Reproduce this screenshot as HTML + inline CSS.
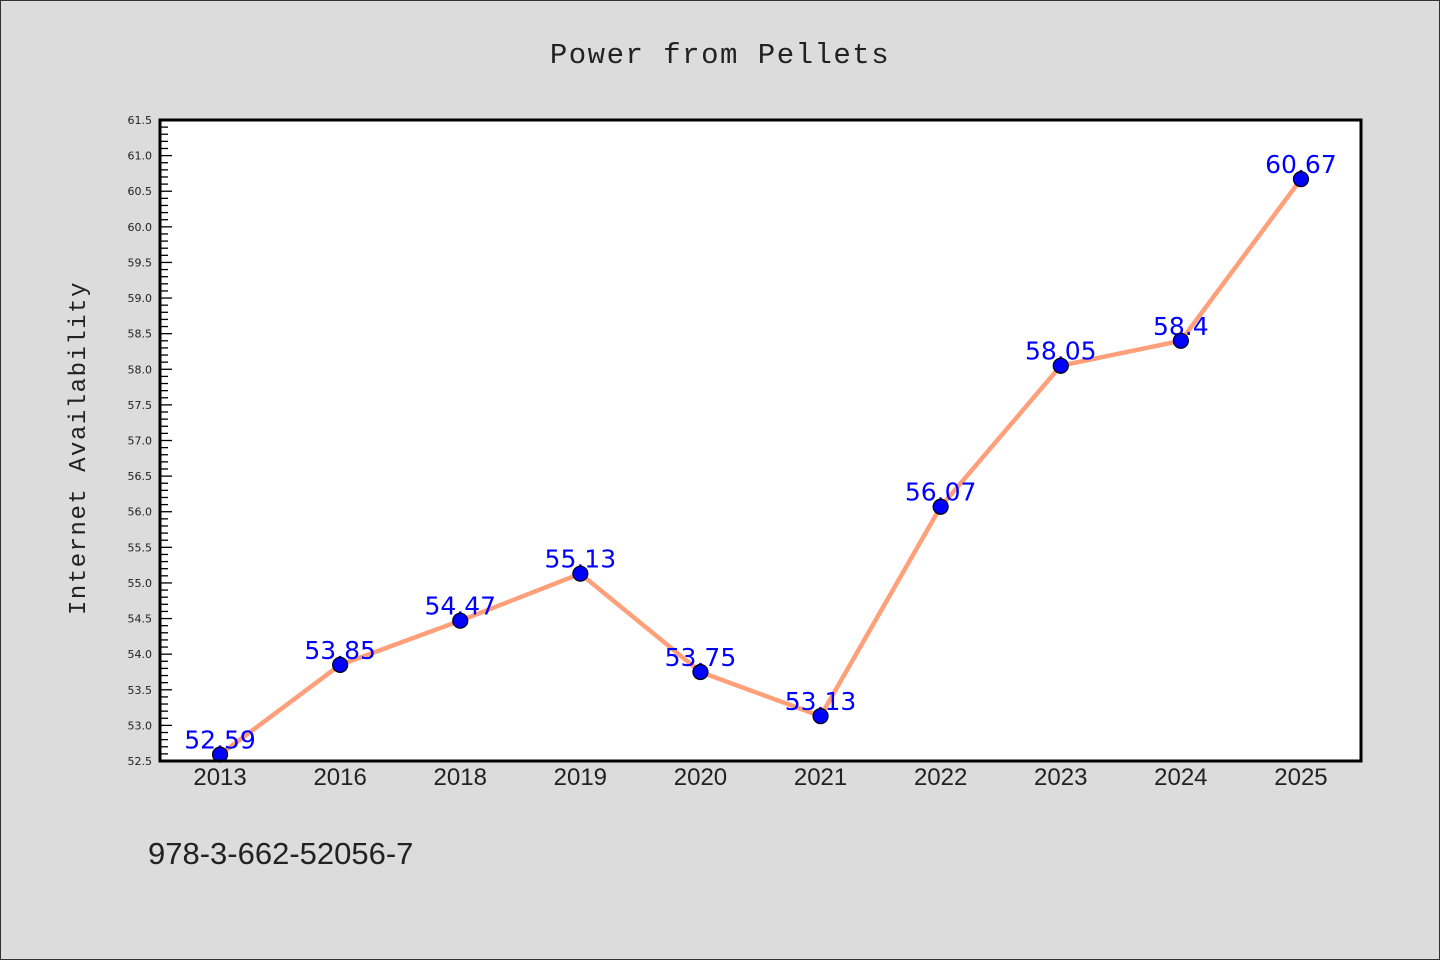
<!DOCTYPE html>
<html><head><meta charset="utf-8"><style>
html,body{margin:0;padding:0;background:#dcdcdc;}
svg{display:block;}
</style></head><body>
<svg id="chart" width="1440" height="960" xmlns="http://www.w3.org/2000/svg">
<rect x="0.5" y="0.5" width="1439" height="959" fill="#dcdcdc" stroke="#333" stroke-width="1"/>
<text x="720" y="63" text-anchor="middle" font-family="'WenQuanYi Zen Hei','Liberation Mono',monospace" font-size="29" letter-spacing="1.5" fill="#222">Power from Pellets</text>
<rect x="160" y="120" width="1201" height="641" fill="#fff"/>
<g id="yaxis"></g>
<g id="xaxis"></g>
<g id="series"></g>
<rect x="160" y="120" width="1201" height="641" fill="none" stroke="#000" stroke-width="3"/>
<text transform="translate(85,448) rotate(-90)" text-anchor="middle" font-family="'WenQuanYi Zen Hei','Liberation Mono',monospace" font-size="24" letter-spacing="1.5" fill="#222">Internet Availability</text>
<text x="148" y="864" font-family="'WenQuanYi Zen Hei','Liberation Sans',sans-serif" font-size="31" fill="#222">978-3-662-52056-7</text>
</svg>
<script>
const categories = ["2013","2016","2018","2019","2020","2021","2022","2023","2024","2025"];
const values = [52.59,53.85,54.47,55.13,53.75,53.13,56.07,58.05,58.4,60.67];
const valueLabels = ["52.59","53.85","54.47","55.13","53.75","53.13","56.07","58.05","58.4","60.67"];
const yTicks = [52.5,53.0,53.5,54.0,54.5,55.0,55.5,56.0,56.5,57.0,57.5,58.0,58.5,59.0,59.5,60.0,60.5,61.0,61.5];
const NS="http://www.w3.org/2000/svg";
const L=160,R=1361,T=120,B=761,yMin=52.5,yMax=61.5;
const y=v=>B-(v-yMin)/(yMax-yMin)*(B-T);
const band=(R-L)/categories.length;
const x=i=>L+band*(i+0.5);
function mk(tag,attrs,parent){const e=document.createElementNS(NS,tag);for(const k in attrs)e.setAttribute(k,attrs[k]);parent.appendChild(e);return e;}
const ya=document.getElementById('yaxis');
for(let k=0;k<=90;k++){const v=yMin+k*0.1;const major=k%5===0;
 const t=mk('line',{x1:L,x2:L+(major?12:8),y1:y(v),y2:y(v),stroke:'#000','stroke-width':1.3},ya);
 
 }
yTicks.forEach(v=>{const t=mk('text',{x:152,y:y(v)+4,'text-anchor':'end','font-family':"'DejaVu Sans',sans-serif",'font-size':11,fill:'#222'},ya);
 t.textContent=v.toFixed(1);
 
 });
const xa=document.getElementById('xaxis');
categories.forEach((c,i)=>{const t=mk('text',{x:x(i),y:785,'text-anchor':'middle','font-family':"'WenQuanYi Zen Hei','Liberation Sans',sans-serif",'font-size':24,fill:'#222'},xa);
 t.textContent=c;
 
 });
const s=document.getElementById('series');
const ln=mk('polyline',{points:values.map((v,i)=>x(i)+','+y(v)).join(' '),fill:'none',stroke:'#ffa07a','stroke-width':4.5,'stroke-linejoin':'round'},s);


values.forEach((v,i)=>{const t=mk('text',{x:x(i),y:y(v)-6,'text-anchor':'middle','font-family':"'DejaVu Sans','Liberation Sans',sans-serif",'font-size':25,fill:'#0000ff'},s);
 t.textContent=valueLabels[i];
 
 });
values.forEach((v,i)=>{const c=mk('circle',{cx:x(i),cy:y(v),r:7.5,fill:'#0000ff',stroke:'#000','stroke-width':1.2},s);
 
 });
</script>
</body></html>
